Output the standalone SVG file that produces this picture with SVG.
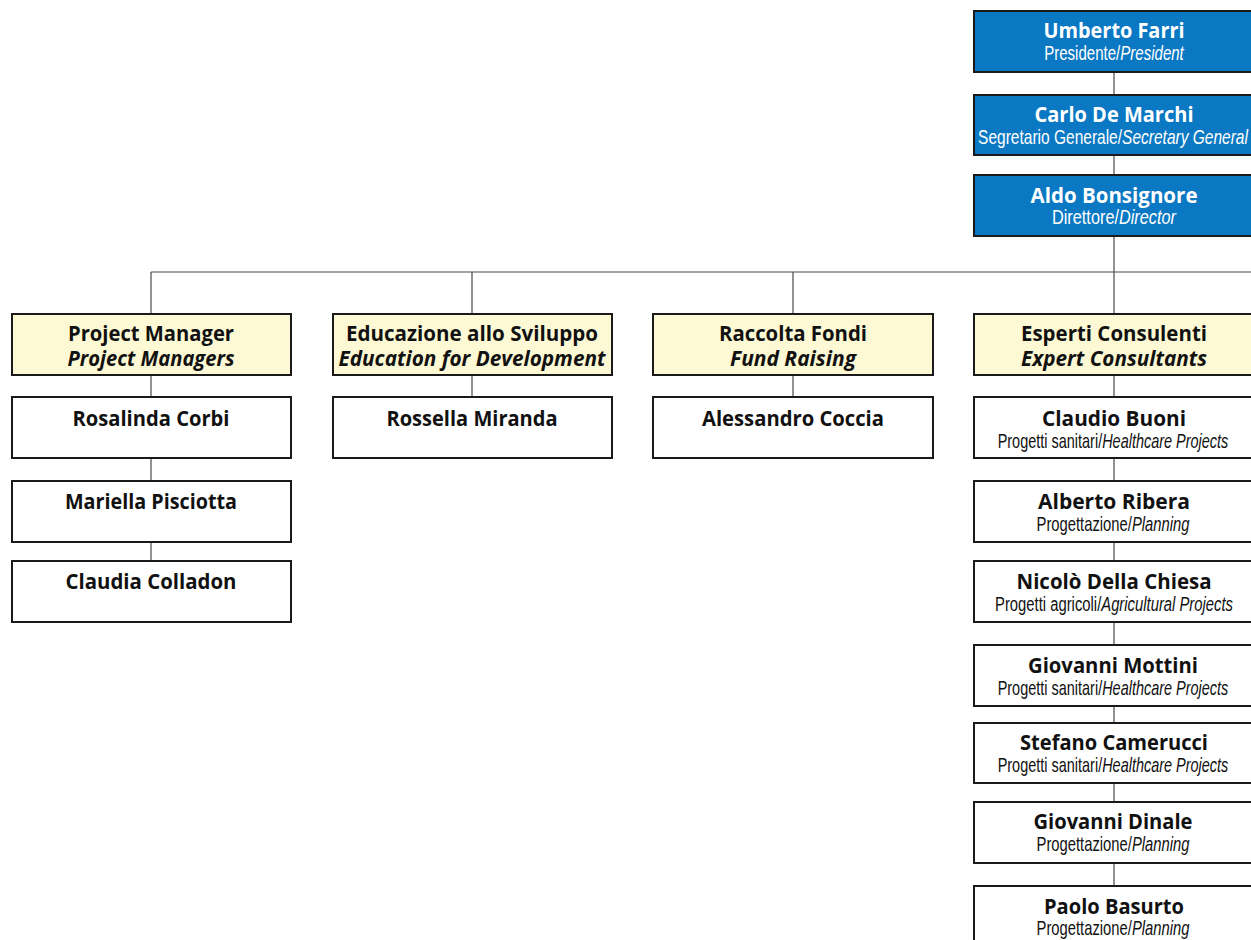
<svg xmlns="http://www.w3.org/2000/svg" width="1251" height="940" viewBox="0 0 1251 940">
<style>
.box{stroke:#1a1a1a;stroke-width:2}
.blue{fill:#0a78c2}
.yel{fill:#fdf9d4}
.wht{fill:#ffffff}
.conn line{stroke:#4a4a4a;stroke-width:1.2}
.nm{font-family:"Open Sans","Liberation Sans",sans-serif;font-weight:bold;font-size:21px;text-anchor:middle}
.sb{font-family:"Liberation Sans",Arial,sans-serif;font-size:20px;text-anchor:middle}
.bi{font-family:"Open Sans","Liberation Sans",sans-serif;font-weight:bold;font-style:italic;font-size:21px;text-anchor:middle}
.w{fill:#ffffff}
.k{fill:#111111}
.it{font-style:italic}
</style>
<rect width="1251" height="940" fill="#ffffff"/>
<g class="conn" id="connectors">
<line x1="1114" y1="72" x2="1114" y2="95"/>
<line x1="1114" y1="155" x2="1114" y2="175"/>
<line x1="1114" y1="236" x2="1114" y2="314"/>
<line x1="151" y1="272" x2="1251" y2="272"/>
<line x1="151" y1="272" x2="151" y2="314"/>
<line x1="472" y1="272" x2="472" y2="314"/>
<line x1="793" y1="272" x2="793" y2="314"/>
<line x1="151" y1="375" x2="151" y2="397"/>
<line x1="151" y1="458" x2="151" y2="481"/>
<line x1="151" y1="542" x2="151" y2="561"/>
<line x1="472" y1="375" x2="472" y2="397"/>
<line x1="793" y1="375" x2="793" y2="397"/>
<line x1="1114" y1="375" x2="1114" y2="397"/>
<line x1="1114" y1="458" x2="1114" y2="481"/>
<line x1="1114" y1="542" x2="1114" y2="561"/>
<line x1="1114" y1="622" x2="1114" y2="645"/>
<line x1="1114" y1="706" x2="1114" y2="723"/>
<line x1="1114" y1="783" x2="1114" y2="802"/>
<line x1="1114" y1="863" x2="1114" y2="886"/>
</g>
<g id="n-farri">
<rect class="box blue" x="974" y="11" width="280" height="61"/>
<text class="nm w" x="1114" y="38" textLength="141" lengthAdjust="spacingAndGlyphs">Umberto Farri</text>
<text class="sb w" transform="translate(1114,60) scale(0.752,1)">Presidente/<tspan class="it">President</tspan></text>
</g>
<g id="n-demarchi">
<rect class="box blue" x="974" y="95" width="280" height="60"/>
<text class="nm w" x="1114" y="122" textLength="159" lengthAdjust="spacingAndGlyphs">Carlo De Marchi</text>
<text class="sb w" transform="translate(1113,144) scale(0.776,1)">Segretario Generale/<tspan class="it">Secretary General</tspan></text>
</g>
<g id="n-bonsignore">
<rect class="box blue" x="974" y="175" width="280" height="61"/>
<text class="nm w" x="1114" y="203" textLength="167" lengthAdjust="spacingAndGlyphs">Aldo Bonsignore</text>
<text class="sb w" transform="translate(1114,224) scale(0.815,1)">Direttore/<tspan class="it">Director</tspan></text>
</g>
<g id="h-pm">
<rect class="box yel" x="12" y="314" width="279" height="61"/>
<text class="nm k" x="151" y="341" textLength="166" lengthAdjust="spacingAndGlyphs">Project Manager</text>
<text class="bi k" x="151" y="366" textLength="167" lengthAdjust="spacingAndGlyphs">Project Managers</text>
</g>
<g id="h-edu">
<rect class="box yel" x="333" y="314" width="279" height="61"/>
<text class="nm k" x="472" y="341" textLength="252" lengthAdjust="spacingAndGlyphs">Educazione allo Sviluppo</text>
<text class="bi k" x="472" y="366" textLength="267" lengthAdjust="spacingAndGlyphs">Education for Development</text>
</g>
<g id="h-fund">
<rect class="box yel" x="653" y="314" width="280" height="61"/>
<text class="nm k" x="793" y="341" textLength="148" lengthAdjust="spacingAndGlyphs">Raccolta Fondi</text>
<text class="bi k" x="793" y="366" textLength="126" lengthAdjust="spacingAndGlyphs">Fund Raising</text>
</g>
<g id="h-exp">
<rect class="box yel" x="974" y="314" width="280" height="61"/>
<text class="nm k" x="1114" y="341" textLength="186" lengthAdjust="spacingAndGlyphs">Esperti Consulenti</text>
<text class="bi k" x="1114" y="366" textLength="186" lengthAdjust="spacingAndGlyphs">Expert Consultants</text>
</g>
<g id="n-corbi">
<rect class="box wht" x="12" y="397" width="279" height="61"/>
<text class="nm k" x="151" y="426" textLength="157" lengthAdjust="spacingAndGlyphs">Rosalinda Corbi</text>
</g>
<g id="n-pisciotta">
<rect class="box wht" x="12" y="481" width="279" height="61"/>
<text class="nm k" x="151" y="509" textLength="172" lengthAdjust="spacingAndGlyphs">Mariella Pisciotta</text>
</g>
<g id="n-colladon">
<rect class="box wht" x="12" y="561" width="279" height="61"/>
<text class="nm k" x="151" y="589" textLength="171" lengthAdjust="spacingAndGlyphs">Claudia Colladon</text>
</g>
<g id="n-miranda">
<rect class="box wht" x="333" y="397" width="279" height="61"/>
<text class="nm k" x="472" y="426" textLength="171" lengthAdjust="spacingAndGlyphs">Rossella Miranda</text>
</g>
<g id="n-coccia">
<rect class="box wht" x="653" y="397" width="280" height="61"/>
<text class="nm k" x="793" y="426" textLength="182" lengthAdjust="spacingAndGlyphs">Alessandro Coccia</text>
</g>
<g id="n-buoni">
<rect class="box wht" x="974" y="397" width="280" height="61"/>
<text class="nm k" x="1114" y="426" textLength="144" lengthAdjust="spacingAndGlyphs">Claudio Buoni</text>
<text class="sb k" transform="translate(1113,448) scale(0.724,1)">Progetti sanitari/<tspan class="it">Healthcare Projects</tspan></text>
</g>
<g id="n-ribera">
<rect class="box wht" x="974" y="481" width="280" height="61"/>
<text class="nm k" x="1114" y="509" textLength="152" lengthAdjust="spacingAndGlyphs">Alberto Ribera</text>
<text class="sb k" transform="translate(1113,531) scale(0.74,1)">Progettazione/<tspan class="it">Planning</tspan></text>
</g>
<g id="n-dellachiesa">
<rect class="box wht" x="974" y="561" width="280" height="61"/>
<text class="nm k" x="1114" y="589" textLength="195" lengthAdjust="spacingAndGlyphs">Nicolò Della Chiesa</text>
<text class="sb k" transform="translate(1114,611) scale(0.741,1)">Progetti agricoli/<tspan class="it">Agricultural Projects</tspan></text>
</g>
<g id="n-mottini">
<rect class="box wht" x="974" y="645" width="280" height="61"/>
<text class="nm k" x="1113" y="673" textLength="170" lengthAdjust="spacingAndGlyphs">Giovanni Mottini</text>
<text class="sb k" transform="translate(1113,695) scale(0.724,1)">Progetti sanitari/<tspan class="it">Healthcare Projects</tspan></text>
</g>
<g id="n-camerucci">
<rect class="box wht" x="974" y="723" width="280" height="60"/>
<text class="nm k" x="1114" y="750" textLength="188" lengthAdjust="spacingAndGlyphs">Stefano Camerucci</text>
<text class="sb k" transform="translate(1113,772) scale(0.724,1)">Progetti sanitari/<tspan class="it">Healthcare Projects</tspan></text>
</g>
<g id="n-dinale">
<rect class="box wht" x="974" y="802" width="280" height="61"/>
<text class="nm k" x="1113" y="829" textLength="159" lengthAdjust="spacingAndGlyphs">Giovanni Dinale</text>
<text class="sb k" transform="translate(1113,851) scale(0.74,1)">Progettazione/<tspan class="it">Planning</tspan></text>
</g>
<g id="n-basurto">
<rect class="box wht" x="974" y="886" width="280" height="61"/>
<text class="nm k" x="1114" y="914" textLength="140" lengthAdjust="spacingAndGlyphs">Paolo Basurto</text>
<text class="sb k" transform="translate(1113,935) scale(0.74,1)">Progettazione/<tspan class="it">Planning</tspan></text>
</g>
</svg>
